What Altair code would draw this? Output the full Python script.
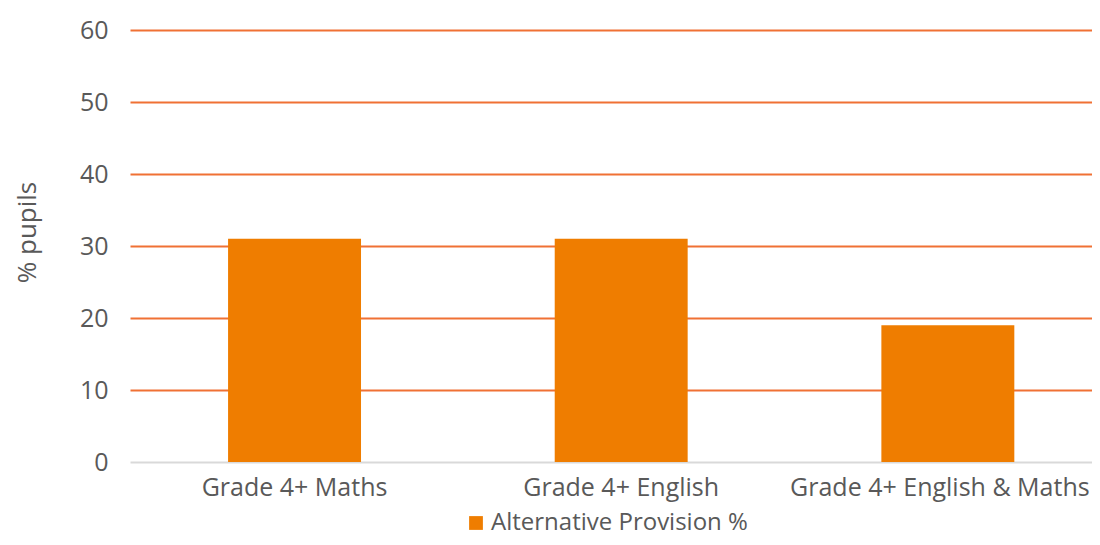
import altair as alt
import pandas as pd

categories = ["Grade 4+ Maths", "Grade 4+ English", "Grade 4+ English & Maths"]
values = [31, 31, 19]
series = ["Alternative Provision %"] * 3

df = pd.DataFrame({"cat": categories, "val": values, "series": series})

FONT = "Open Sans"
TXT = "#595959"
FS = 25

chart = alt.Chart(df).mark_bar(color="#EF7D00").encode(
    x=alt.X("cat:N", sort=categories,
            scale=alt.Scale(paddingInner=0.593, paddingOuter=0.269, align=0.558),
            axis=alt.Axis(title=None, labelAngle=0, labelFontSize=FS, labelFont=FONT,
                          labelColor=TXT, ticks=False, domainColor="#D9D9D9",
                          domainWidth=2, labelPadding=13, grid=False, labelLimit=0,
                          labelOffset=alt.condition(
                              alt.datum.value == "Grade 4+ English & Maths",
                              alt.value(-8), alt.value(0)))),
    y=alt.Y("val:Q", scale=alt.Scale(domain=[0, 60]),
            axis=alt.Axis(title="% pupils", values=[0, 10, 20, 30, 40, 50, 60],
                          titleFont=FONT, titleFontSize=FS + 1, titleFontWeight="normal",
                          titleColor=TXT, titleX=-90, titleY=202,
                          labelFont=FONT, labelFontSize=FS, labelColor=TXT,
                          labelPadding=22, ticks=False, domain=False,
                          gridColor=alt.condition(alt.datum.value == 0,
                                                  alt.value("transparent"),
                                                  alt.value("#F07134")),
                          gridWidth=2)),
    fill=alt.Fill("series:N", scale=alt.Scale(range=["#EF7D00"]),
                  legend=alt.Legend(title=None, orient="none", legendX=334, legendY=481,
                                    symbolType="square", symbolSize=190,
                                    labelFont=FONT, labelFontSize=24, labelColor=TXT,
                                    symbolStrokeWidth=0, labelOffset=3, labelLimit=0)),
).properties(
    width=962, height=432,
    autosize=alt.AutoSizeParams(type="none"),
    padding={"left": 122, "top": 22, "right": 0, "bottom": 75},
).configure_view(stroke=None)

chart.save("out.html", embed_options={"renderer": "svg", "actions": False})
